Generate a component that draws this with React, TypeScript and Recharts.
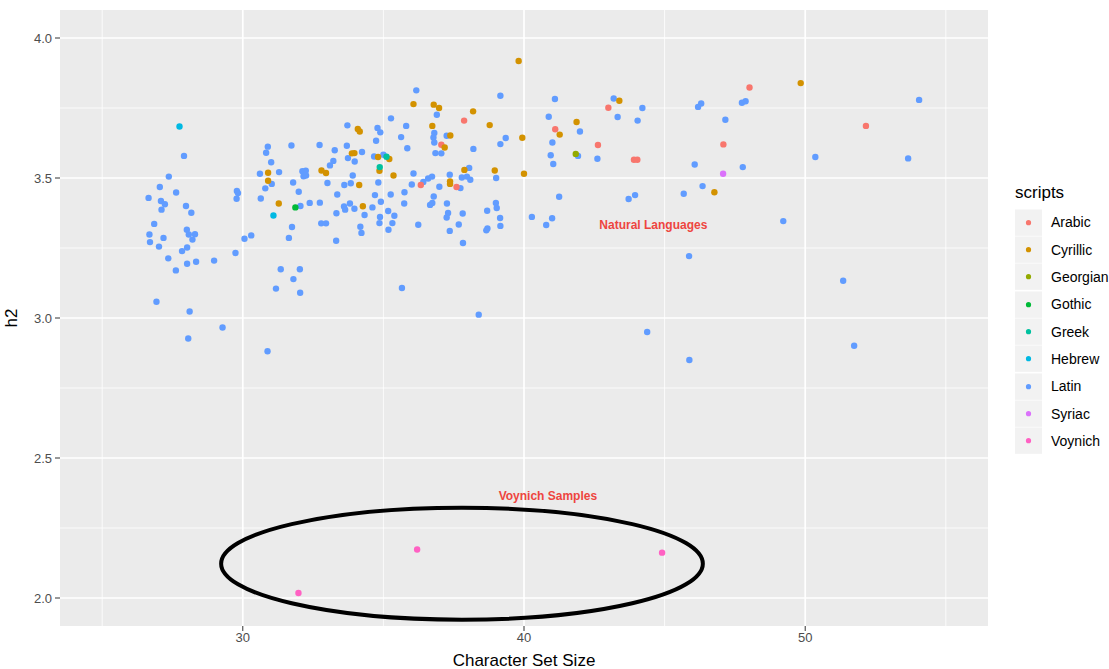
import React from 'react';
import {
  ScatterChart,
  Scatter,
  XAxis,
  YAxis,
  CartesianGrid,
  ReferenceArea,
  ReferenceDot,
  Legend,
} from 'recharts';

const FONT = '"Liberation Sans", Arial, Helvetica, sans-serif';

// ---- categories / colours ----
const scripts = ['Arabic', 'Cyrillic', 'Georgian', 'Gothic', 'Greek', 'Hebrew', 'Latin', 'Syriac', 'Voynich'];
const colors = ['#F8766D', '#D39200', '#93AA00', '#00BA38', '#00C19F', '#00B9E3', '#619CFF', '#DB72FB', '#FF61C3'];

// ---- axes ----
const xTicks = [30, 40, 50];
const yTicks = [2.0, 2.5, 3.0, 3.5, 4.0];
const xMinor = [25, 35, 45, 55];
const yMinor = [2.25, 2.75, 3.25, 3.75];
const xDomain = [23.5, 56.5];
const yDomain = [1.9, 4.1];

// ---- data: [Character Set Size, h2] ----
type P = [number, number];

const arabic: P[] = [
  [36.33, 3.475], [37.06, 3.619], [37.6, 3.468], [37.87, 3.705], [41.11, 3.674], [42.63, 3.618],
  [43.0, 3.751], [43.91, 3.565], [44.03, 3.565], [47.09, 3.62], [48.02, 3.823], [52.16, 3.686],
];

const cyrillic: P[] = [
  [30.9, 3.519], [30.9, 3.49], [31.28, 3.409], [32.8, 3.527], [32.96, 3.518], [36.07, 3.764],
  [36.79, 3.762], [36.98, 3.75], [38.19, 3.738], [38.78, 3.689], [34.09, 3.675], [34.16, 3.666],
  [36.74, 3.686], [37.38, 3.652], [37.18, 3.609], [33.88, 3.588], [33.97, 3.589], [34.81, 3.575],
  [35.21, 3.568], [34.86, 3.526], [34.14, 3.475], [35.36, 3.509], [37.37, 3.488], [37.37, 3.479],
  [37.88, 3.529], [38.96, 3.527], [34.27, 3.399], [39.81, 3.918], [41.87, 3.7], [41.27, 3.655],
  [39.94, 3.644], [43.39, 3.776], [40.0, 3.515], [46.77, 3.449], [49.84, 3.839],
];

const georgian: P[] = [[41.84, 3.586]];
const gothic: P[] = [[31.87, 3.395]];
const greek: P[] = [[35.11, 3.576], [34.87, 3.539]];
const hebrew: P[] = [[27.75, 3.684], [31.09, 3.366]];
const syriac: P[] = [[47.08, 3.515]];
const voynich: P[] = [[31.98, 2.018], [36.2, 2.173], [44.91, 2.162]];

const latin: P[] = [
  [27.91, 3.579], [27.37, 3.505], [27.05, 3.468], [26.65, 3.429], [27.63, 3.448], [27.09, 3.418],
  [27.23, 3.406], [27.11, 3.387], [27.98, 3.4], [28.17, 3.376], [26.85, 3.336], [26.68, 3.298],
  [26.7, 3.271], [27.18, 3.286], [27.02, 3.255], [28.01, 3.315], [28.08, 3.298], [28.3, 3.299],
  [28.21, 3.28], [28.02, 3.252], [27.84, 3.239], [27.35, 3.213], [27.62, 3.17], [28.02, 3.194],
  [28.34, 3.201], [28.98, 3.205], [29.74, 3.232], [30.06, 3.283], [30.3, 3.295], [29.79, 3.454],
  [29.83, 3.446], [29.78, 3.426], [26.93, 3.058], [28.11, 3.023], [29.28, 2.966], [28.06, 2.927],
  [30.88, 2.881], [30.89, 3.612], [30.83, 3.59], [31.01, 3.556], [31.73, 3.616], [32.73, 3.618],
  [30.61, 3.515], [31.03, 3.479], [31.29, 3.521], [30.8, 3.463], [30.64, 3.427], [32.05, 3.4],
  [31.79, 3.484], [31.99, 3.451], [32.12, 3.524], [32.24, 3.526], [32.16, 3.506], [32.25, 3.509],
  [33.1, 3.545], [33.01, 3.482], [32.38, 3.411], [32.74, 3.412], [31.75, 3.325], [31.64, 3.286],
  [32.79, 3.338], [32.96, 3.338], [31.35, 3.174], [32.03, 3.174], [31.8, 3.139], [31.18, 3.105],
  [32.04, 3.09],
  [36.17, 3.813], [39.16, 3.794], [36.9, 3.726], [33.72, 3.688], [35.27, 3.713], [35.81, 3.686],
  [34.79, 3.679], [34.89, 3.663], [36.81, 3.661], [36.78, 3.645], [36.81, 3.627], [37.25, 3.651],
  [36.85, 3.589], [37.06, 3.588], [35.63, 3.646], [34.74, 3.633], [35.85, 3.606], [33.27, 3.599],
  [33.7, 3.615], [34.24, 3.593], [33.74, 3.571], [33.98, 3.559], [33.22, 3.561], [34.67, 3.577],
  [35.0, 3.583], [33.91, 3.509], [36.07, 3.516], [33.61, 3.475], [33.84, 3.481], [34.82, 3.484],
  [36.01, 3.477], [36.42, 3.486], [36.59, 3.498], [36.73, 3.505], [36.99, 3.469], [37.36, 3.512],
  [37.74, 3.464], [37.79, 3.502], [37.97, 3.505], [38.09, 3.494], [38.05, 3.536], [38.2, 3.604],
  [39.01, 3.5], [39.16, 3.621], [39.35, 3.643], [33.36, 3.441], [34.7, 3.439], [35.26, 3.441],
  [35.75, 3.449], [35.74, 3.409], [34.91, 3.415], [34.61, 3.395], [33.81, 3.409], [33.6, 3.398],
  [33.64, 3.387], [33.97, 3.39], [33.33, 3.374], [34.33, 3.368], [35.17, 3.382], [35.39, 3.365],
  [34.88, 3.361], [34.86, 3.339], [35.32, 3.339], [35.18, 3.315], [34.18, 3.326], [34.22, 3.304],
  [33.32, 3.276], [36.24, 3.333], [36.66, 3.404], [36.74, 3.411], [36.79, 3.434], [37.26, 3.409],
  [37.3, 3.375], [37.25, 3.359], [37.36, 3.311], [37.68, 3.334], [37.82, 3.373], [37.83, 3.268],
  [38.69, 3.383], [39.0, 3.411], [39.03, 3.393], [39.15, 3.357], [39.16, 3.329], [38.7, 3.32],
  [38.66, 3.313], [35.66, 3.107], [38.39, 3.012],
  [41.1, 3.782], [40.88, 3.719], [41.99, 3.666], [41.01, 3.627], [40.95, 3.581], [41.04, 3.55],
  [41.92, 3.579], [42.61, 3.569], [43.19, 3.784], [43.33, 3.718], [44.21, 3.75], [44.04, 3.705],
  [41.25, 3.433], [40.28, 3.361], [40.79, 3.332], [41.0, 3.356], [43.72, 3.425], [43.95, 3.439],
  [45.68, 3.444], [46.07, 3.548], [46.35, 3.471], [46.19, 3.754], [46.3, 3.766], [47.16, 3.708],
  [47.78, 3.539], [47.75, 3.769], [47.88, 3.774],
  [54.05, 3.779], [50.36, 3.575], [53.66, 3.57], [49.22, 3.346], [45.87, 3.221], [51.35, 3.133],
  [44.38, 2.95], [45.88, 2.85], [51.74, 2.901],
];

const seriesPoints: P[][] = [arabic, cyrillic, georgian, gothic, greek, hebrew, latin, syriac, voynich];

// ---- annotations ----
const naturalLabel = { x: 44.6, y: 3.333, text: 'Natural Languages' };
const voynichLabel = { x: 40.85, y: 2.365, text: 'Voynich Samples' };
const ellipseBox = { x1: 29.23, x2: 46.36, y1: 1.9225, y2: 2.3225 };

const series = scripts.map((name, i) => ({
  name,
  color: colors[i],
  data: seriesPoints[i].map(([x, y]) => ({ x, y })),
}));
// draw Latin first so the other scripts sit on top
const drawOrder = [6, 0, 1, 2, 3, 4, 5, 7, 8];

const ANNOT = '#EE4540';

const renderLegend = () => (
  <div style={{ fontFamily: FONT, color: '#000' }}>
    <div style={{ height: 28.6, lineHeight: '26px', fontSize: 17 }}>scripts</div>
    {scripts.map((s, i) => (
      <div key={s} style={{ display: 'flex', alignItems: 'center', height: 27.34 }}>
        <svg width={27} height={27.34} style={{ display: 'block' }}>
          <rect x={0} y={0.5} width={27} height={26.3} fill="#F2F2F2" />
          <circle cx={13.5} cy={13.67} r={2.6} fill={colors[i]} />
        </svg>
        <span style={{ marginLeft: 9, fontSize: 14, whiteSpace: 'nowrap' }}>{s}</span>
      </div>
    ))}
  </div>
);

const YTitle = (props: any) => {
  const vb = props.viewBox || { y: 10, height: 616 };
  const cy = vb.y + vb.height / 2;
  return (
    <text x={17} y={cy} transform={`rotate(-90, 17, ${cy})`} textAnchor="middle" fontSize={17} fill="#000" fontFamily={FONT}>
      h2
    </text>
  );
};

export default function App() {
  return (
    <div style={{ position: 'absolute', left: 0, top: 0 }}>
      <ScatterChart
        width={1109}
        height={669}
        margin={{ top: 10, right: 121, bottom: 0, left: 0 }}
        style={{ fontFamily: FONT }}
      >
        <CartesianGrid
          fill="#EBEBEB"
          stroke="#FFFFFF"
          strokeWidth={0.8}
          verticalValues={xMinor}
          horizontalValues={yMinor}
        />
        <CartesianGrid stroke="#FFFFFF" strokeWidth={1.7} verticalValues={xTicks} horizontalValues={yTicks} />
        <XAxis
          type="number"
          dataKey="x"
          domain={xDomain}
          ticks={xTicks}
          allowDataOverflow
          height={43}
          axisLine={false}
          tickLine={{ stroke: '#333333', strokeWidth: 1 }}
          tickSize={5}
          tickMargin={2}
          tick={{ fill: '#4D4D4D', fontSize: 13 }}
          label={{ value: 'Character Set Size', position: 'insideBottom', offset: 3, fill: '#000', fontSize: 17 }}
        />
        <YAxis
          type="number"
          dataKey="y"
          domain={yDomain}
          ticks={yTicks}
          allowDataOverflow
          width={60}
          axisLine={false}
          tickLine={{ stroke: '#333333', strokeWidth: 1 }}
          tickSize={5}
          tickMargin={3}
          tick={{ fill: '#4D4D4D', fontSize: 13 }}
          tickFormatter={(v: number) => v.toFixed(1)}
          label={<YTitle />}
        />
        {drawOrder.map((i) => (
          <Scatter
            key={series[i].name}
            name={series[i].name}
            data={series[i].data}
            fill={series[i].color}
            isAnimationActive={false}
            shape={(p: any) => <circle cx={p.cx} cy={p.cy} r={3.2} fill={series[i].color} />}
          />
        ))}
        <ReferenceArea
          x1={ellipseBox.x1}
          x2={ellipseBox.x2}
          y1={ellipseBox.y1}
          y2={ellipseBox.y2}
          ifOverflow="visible"
          shape={(p: any) => (
            <ellipse
              cx={p.x + p.width / 2}
              cy={p.y + p.height / 2}
              rx={Math.abs(p.width) / 2}
              ry={Math.abs(p.height) / 2}
              fill="none"
              stroke="#000"
              strokeWidth={4}
            />
          )}
        />
        <ReferenceDot
          x={naturalLabel.x}
          y={naturalLabel.y}
          r={0}
          ifOverflow="visible"
          shape={(p: any) => (
            <text x={p.cx} y={p.cy} dy="0.35em" textAnchor="middle" fontSize={12} fontWeight="bold" fill={ANNOT} fontFamily={FONT}>
              {naturalLabel.text}
            </text>
          )}
        />
        <ReferenceDot
          x={voynichLabel.x}
          y={voynichLabel.y}
          r={0}
          ifOverflow="visible"
          shape={(p: any) => (
            <text x={p.cx} y={p.cy} dy="0.35em" textAnchor="middle" fontSize={12} fontWeight="bold" fill={ANNOT} fontFamily={FONT}>
              {voynichLabel.text}
            </text>
          )}
        />
        <Legend
          layout="vertical"
          align="center"
          verticalAlign="middle"
          wrapperStyle={{ left: 1015, top: 180, width: 94, height: 275 }}
          content={renderLegend}
        />
      </ScatterChart>
    </div>
  );
}
